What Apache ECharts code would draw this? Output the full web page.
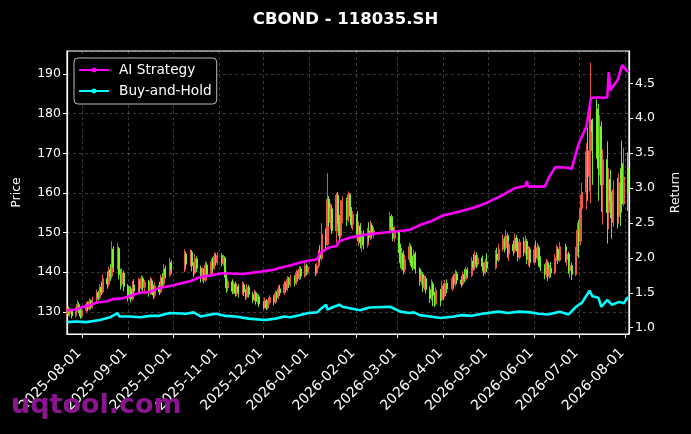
<!DOCTYPE html>
<html><head><meta charset="utf-8">
<script src="https://cdn.jsdelivr.net/npm/echarts@6/dist/echarts.min.js"></script>
<style>html,body{margin:0;padding:0;background:#000}#c{width:691px;height:434px}</style>
</head><body><div id="c"></div>
<script>
const chartTitle = 'CBOND - 118035.SH';
const tickDates = ['2025-08-01','2025-09-01','2025-10-01','2025-11-01','2025-12-01','2026-01-01','2026-02-01','2026-03-01','2026-04-01','2026-05-01','2026-06-01','2026-07-01','2026-08-01'];
const firstDay = '2025-07-22';
const lastDay = '2026-08-03';
const holidays = ['2025-10-01','2025-10-02','2025-10-03','2025-10-06','2025-10-07','2025-10-08','2026-01-01','2026-01-02','2026-02-16','2026-02-17','2026-02-18','2026-02-19','2026-02-20','2026-02-23','2026-04-06','2026-05-01','2026-05-04','2026-05-05','2026-06-19'];
// [open, close, low, high] per trading day
const ohlc = [
[129.5,130.8,128.6,131.5],[130.8,129.6,129.0,131.4],[129.6,130.2,128.8,130.9],[130.2,129.0,128.3,130.6],
[129.0,130.6,128.5,131.2],[130.6,131.8,130.0,132.9],[131.8,130.2,129.6,132.4],[130.2,128.9,128.2,130.8],[128.9,130.4,128.4,131.0],
[130.4,131.9,129.8,132.5],[131.9,130.8,130.1,132.6],[130.8,132.6,130.3,133.4],[132.6,131.2,130.6,133.1],[131.2,133.0,130.8,133.8],
[133.0,134.8,132.4,135.6],[134.8,133.6,132.9,135.3],[133.6,136.2,133.1,137.0],[136.2,135.0,134.2,137.6],[135.0,138.4,134.6,139.5],
[138.4,137.0,135.8,140.2],[137.0,140.6,136.4,141.4],[140.6,139.0,137.8,142.0],[139.0,145.8,138.4,147.8],[145.8,141.2,140.0,146.6],
[141.2,146.0,140.6,147.4],[146.0,139.4,138.2,146.4],[139.4,137.0,135.6,140.8],[137.0,139.8,136.4,141.0],[139.8,136.4,135.2,140.4],
[136.4,134.0,132.6,137.0],[134.0,135.8,133.2,136.6],[135.8,133.2,132.4,136.4],[133.2,136.8,132.8,137.8],[136.8,135.2,134.0,138.2],
[135.2,137.6,134.6,138.6],[137.6,136.0,134.8,138.2],[136.0,138.4,135.4,139.2],[138.4,136.2,135.0,139.0],[136.2,137.4,134.6,138.0],
[137.4,135.0,133.8,138.0],[135.0,137.8,134.2,138.8],[137.8,135.6,134.4,138.4],[135.6,134.2,133.2,136.8],[134.2,136.6,133.6,137.4],
[136.6,135.0,134.2,137.6],[135.0,138.6,134.6,139.4],[138.6,137.0,136.0,139.8],[137.0,140.8,136.4,142.0],[140.8,139.2,138.4,141.6],
[139.2,142.4,138.8,143.6],[142.4,140.6,139.6,143.0],
[140.6,144.6,140.0,145.8],[144.6,142.0,141.2,145.2],
[142.0,145.0,141.4,145.8],[145.0,141.6,140.2,145.6],[141.6,139.8,138.8,142.6],[139.8,143.4,139.4,144.6],[143.4,141.0,140.0,144.0],
[141.0,138.6,137.4,141.6],[138.6,140.4,137.8,141.2],[140.4,138.0,137.2,141.0],[138.0,141.8,137.6,142.8],[141.8,139.4,138.6,142.4],
[139.4,142.6,139.0,143.4],[142.6,141.0,140.2,143.8],[141.0,144.0,140.6,145.0],[144.0,142.4,141.6,144.8],[142.4,144.2,141.8,145.0],
[144.2,142.2,141.4,144.8],[142.2,143.6,141.6,144.4],[143.6,139.4,138.6,144.0],[139.4,136.0,134.8,140.2],[136.0,137.6,135.2,138.4],
[137.6,135.2,134.4,138.2],[135.2,137.0,134.6,137.8],[137.0,134.6,133.8,137.6],[134.6,136.4,134.0,137.2],[136.4,134.8,133.6,137.0],
[134.8,136.8,134.2,137.6],[136.8,135.0,134.0,137.4],[135.0,133.8,133.0,135.8],[133.8,136.2,133.4,137.0],[136.2,134.4,133.6,136.8],
[134.4,133.0,132.2,135.0],[133.0,134.8,132.6,135.6],[134.8,132.6,131.8,135.2],[132.6,133.8,132.0,134.6],[133.8,132.0,131.2,134.4],
[132.0,131.2,130.6,132.8],[131.2,132.8,130.8,133.6],[132.8,131.0,130.4,133.2],[131.0,132.4,130.6,133.0],[132.4,133.6,131.8,134.2],
[133.6,132.4,131.6,134.2],[132.4,134.6,132.0,135.4],[134.6,133.6,132.8,135.2],[133.6,135.8,133.2,136.6],[135.8,134.8,134.0,136.8],
[134.8,137.0,134.2,137.8],[137.0,135.6,134.8,137.6],[135.6,138.2,135.2,139.0],[138.2,136.8,136.0,138.8],[136.8,138.6,136.2,139.4],
[138.6,137.2,136.4,139.2],[137.2,139.8,136.8,140.6],[139.8,138.4,137.6,140.4],[138.4,140.8,138.0,141.6],[140.8,139.0,138.2,141.4],
[139.0,141.6,138.6,142.6],[141.6,140.0,139.2,142.2],[140.0,141.2,139.4,141.8],
[141.2,139.8,139.0,142.0],[139.8,141.6,139.4,142.4],[141.6,144.8,141.0,145.6],[144.8,143.4,142.6,146.8],[143.4,149.6,143.0,152.4],
[149.6,147.0,145.6,151.0],[147.0,158.4,146.6,165.0],[158.4,152.6,151.4,159.2],[152.6,156.0,150.8,157.4],[156.0,150.4,149.6,157.0],
[150.4,159.4,147.4,160.0],[159.4,153.0,152.2,160.2],[153.0,149.2,148.0,154.4],[149.2,156.4,148.6,158.2],[156.4,158.0,152.4,159.2],
[158.0,153.2,151.6,158.8],[153.2,159.6,152.6,160.4],[159.6,155.0,154.0,160.0],[155.0,152.0,151.2,156.4],[152.0,154.6,150.6,155.4],
[154.6,149.0,147.8,155.4],[149.0,151.6,146.6,152.8],[151.6,147.4,146.0,152.4],[147.4,149.6,145.2,150.4],[149.6,146.8,145.8,150.6],
[146.8,150.4,146.2,151.2],[150.4,148.8,147.8,152.6],[148.8,151.8,148.2,153.0],[151.8,149.4,148.4,152.4],[149.4,150.6,148.6,151.4],
[150.6,154.0,149.6,155.2],[154.0,151.2,150.2,154.6],[151.2,148.6,147.8,152.2],[148.6,150.2,147.6,151.6],
[150.2,146.0,144.8,150.6],[146.0,142.4,141.0,147.2],[142.4,144.8,140.4,145.6],[144.8,140.6,139.4,145.4],[140.6,143.2,140.0,144.4],
[143.2,146.4,142.4,147.4],[146.4,142.8,141.6,147.0],[142.8,141.2,140.4,144.2],[141.2,144.6,140.8,145.6],[144.6,140.8,139.6,145.2],
[140.8,137.6,136.6,141.2],[137.6,139.4,136.8,140.4],[139.4,136.2,135.0,140.0],[136.2,138.4,135.4,139.2],[138.4,135.6,134.6,139.0],
[135.6,133.4,132.2,136.4],[133.4,137.0,132.8,138.2],[137.0,134.2,131.4,137.6],[134.2,132.0,131.2,135.0],[132.0,135.4,131.6,136.2],
[135.4,133.0,131.4,135.8],[133.0,136.6,132.6,137.8],[136.6,134.0,133.0,137.2],[134.0,137.2,133.6,138.0],[137.2,135.8,134.6,138.2],
[135.8,138.4,135.2,139.0],[138.4,137.0,136.2,139.4],[137.0,139.6,136.4,140.6],[139.6,138.0,137.2,140.2],
[138.0,137.0,136.2,139.0],[137.0,139.4,136.6,140.2],[139.4,138.2,137.4,140.8],[138.2,140.6,137.8,141.4],[140.6,139.2,138.4,141.2],
[139.2,142.8,138.8,143.8],[142.8,141.2,140.4,144.6],[141.2,144.2,140.6,145.4],[144.2,142.0,141.0,145.0],[142.0,143.6,141.4,144.4],
[143.6,141.4,140.2,144.2],[141.4,139.8,139.0,142.4],[139.8,142.6,139.4,143.4],[142.6,141.0,140.0,144.8],
[141.0,144.6,140.6,145.6],[144.6,143.0,142.2,146.2],[143.0,145.8,142.6,147.2],
[145.8,148.4,145.2,149.6],[148.4,146.2,145.0,149.0],[146.2,149.2,145.6,150.6],[149.2,144.6,143.6,149.8],[144.6,147.0,142.8,147.8],
[147.0,145.4,144.2,148.0],[145.4,148.6,144.8,149.8],[148.6,146.0,145.2,149.4],[146.0,143.8,142.8,147.2],[143.8,147.6,143.2,148.4],
[147.6,145.0,144.0,148.8],[145.0,147.8,144.2,149.2],[147.8,143.2,142.0,148.4],[143.2,145.8,141.6,146.6],[145.8,142.4,141.2,146.4],
[142.4,145.6,141.8,146.8],[145.6,143.6,142.4,148.0],[143.6,146.2,143.0,147.4],[146.2,142.6,141.4,146.8],[142.6,141.2,140.2,144.0],
[141.2,139.4,138.2,142.0],[139.4,142.4,138.6,143.4],[142.4,139.0,137.8,143.0],[139.0,141.0,138.4,141.8],[141.0,139.8,138.6,142.6],
[139.8,143.6,139.4,144.6],[143.6,145.8,142.8,147.0],[145.8,143.0,142.0,146.4],[143.0,146.4,142.6,147.6],
[146.4,143.2,142.4,147.2],[143.2,144.6,141.6,145.6],[144.6,140.4,139.6,145.2],[140.4,141.6,138.6,142.6],[141.6,139.4,138.0,142.4],
[139.4,145.2,139.0,146.4],[145.2,150.6,144.0,152.4],[150.6,147.8,143.6,153.2],[147.8,156.0,146.8,159.6],[156.0,160.2,154.4,162.6],
[160.2,170.4,155.8,172.6],[170.4,164.2,158.0,176.4],[164.2,170.6,160.4,181.6],[170.6,178.4,157.4,192.8],[178.4,175.4,162.0,178.8],
[181.2,172.4,168.6,183.6],[172.4,166.2,158.0,182.4],[166.2,176.8,164.4,179.6],[176.8,162.0,155.2,178.0],[162.0,168.4,152.0,171.0],
[168.4,155.0,147.2,173.0],[155.0,163.4,150.8,166.2],[163.4,158.0,153.6,165.8],[158.0,152.6,148.4,160.4],[152.6,160.8,151.4,163.2],
[160.8,154.0,151.0,163.8],[154.0,162.6,152.2,165.0],[162.6,157.2,151.6,166.2],[167.4,157.2,155.0,173.2],[157.2,164.0,156.6,171.4],
[166.4,160.0,155.4,170.2]
];
const aiStrategy = [['2025-07-22',1.25],['2025-07-29',1.26],['2025-07-31',1.29],['2025-08-06',1.32],['2025-08-11',1.36],['2025-08-18',1.38],['2025-08-22',1.41],['2025-08-28',1.42],['2025-09-03',1.46],['2025-09-09',1.50],['2025-09-15',1.51],['2025-09-22',1.57],['2025-09-30',1.60],['2025-10-13',1.67],['2025-10-20',1.73],['2025-10-27',1.75],['2025-11-03',1.78],['2025-11-17',1.77],['2025-11-28',1.80],['2025-12-08',1.83],['2025-12-12',1.86],['2025-12-19',1.89],['2025-12-25',1.93],['2025-12-31',1.96],['2026-01-06',1.98],['2026-01-08',2.07],['2026-01-14',2.15],['2026-01-19',2.17],['2026-01-21',2.24],['2026-01-28',2.29],['2026-02-04',2.32],['2026-02-10',2.34],['2026-02-24',2.37],['2026-03-09',2.40],['2026-03-16',2.47],['2026-03-23',2.52],['2026-04-01',2.61],['2026-04-07',2.64],['2026-04-20',2.71],['2026-04-29',2.78],['2026-05-08',2.87],['2026-05-19',3.00],['2026-05-26',3.03],['2026-05-27',3.10],['2026-05-28',3.02],['2026-06-08',3.02],['2026-06-11',3.16],['2026-06-15',3.30],['2026-06-24',3.29],['2026-06-26',3.27],['2026-06-29',3.50],['2026-07-01',3.65],['2026-07-06',3.88],['2026-07-09',4.29],['2026-07-14',4.30],['2026-07-17',4.29],['2026-07-20',4.30],['2026-07-21',4.66],['2026-07-22',4.40],['2026-07-23',4.40],['2026-07-27',4.55],['2026-07-30',4.76],['2026-08-03',4.66]];
const buyHold = [['2025-07-22',1.08],['2025-07-28',1.09],['2025-08-04',1.08],['2025-08-13',1.11],['2025-08-20',1.15],['2025-08-25',1.21],['2025-08-26',1.16],['2025-09-02',1.16],['2025-09-09',1.15],['2025-09-16',1.17],['2025-09-22',1.17],['2025-09-29',1.21],['2025-10-10',1.20],['2025-10-15',1.22],['2025-10-20',1.16],['2025-10-24',1.18],['2025-10-30',1.20],['2025-11-05',1.17],['2025-11-12',1.16],['2025-11-21',1.13],['2025-12-02',1.11],['2025-12-09',1.13],['2025-12-15',1.16],['2025-12-19',1.15],['2025-12-25',1.18],['2025-12-31',1.21],['2026-01-06',1.22],['2026-01-09',1.28],['2026-01-12',1.33],['2026-01-13',1.26],['2026-01-16',1.29],['2026-01-21',1.33],['2026-01-23',1.30],['2026-01-28',1.28],['2026-02-04',1.25],['2026-02-10',1.29],['2026-02-24',1.30],['2026-03-03',1.23],['2026-03-09',1.21],['2026-03-12',1.22],['2026-03-16',1.18],['2026-03-23',1.16],['2026-03-30',1.14],['2026-04-08',1.16],['2026-04-13',1.18],['2026-04-20',1.17],['2026-04-27',1.20],['2026-05-08',1.23],['2026-05-14',1.21],['2026-05-22',1.23],['2026-05-29',1.22],['2026-06-04',1.20],['2026-06-10',1.19],['2026-06-18',1.23],['2026-06-24',1.19],['2026-06-29',1.30],['2026-07-03',1.36],['2026-07-08',1.53],['2026-07-10',1.45],['2026-07-14',1.43],['2026-07-16',1.30],['2026-07-20',1.40],['2026-07-23',1.33],['2026-07-28',1.37],['2026-07-31',1.35],['2026-08-03',1.44]];

function ts(s) { const t = s.split('-').map(Number); return Date.UTC(t[0], t[1] - 1, t[2]); }
function fmt(v) { const d = new Date(v); const p = x => (x < 10 ? '0' : '') + x; return d.getUTCFullYear() + '-' + p(d.getUTCMonth() + 1) + '-' + p(d.getUTCDate()); }
function tradingDays(a, b, skip) {
  const out = [];
  for (let t = ts(a); t <= ts(b); t += 86400000) {
    const wd = new Date(t).getUTCDay();
    if (wd === 0 || wd === 6 || skip.indexOf(fmt(t)) >= 0) continue;
    out.push(t);
  }
  return out;
}
const days = tradingDays(firstDay, lastDay, holidays);
const n = Math.min(days.length, ohlc.length);
const candleData = [];
for (let i = 0; i < n; i++) candleData.push([days[i]].concat(ohlc[i]));
const tickVals = tickDates.map(ts);

const chart = echarts.init(document.getElementById('c'));
const font = 'DejaVu Sans';
const gridLine = { show: true, lineStyle: { color: 'rgba(255,255,255,0.28)', type: [3, 3], width: 0.8 } };
chart.setOption({
  backgroundColor: '#000',
  animation: false,
  textStyle: { fontFamily: font },
  title: { text: chartTitle, left: 'center', top: 6, textStyle: { color: '#fff', fontSize: 16.5, fontWeight: 'bold', fontFamily: font } },
  legend: {
    orient: 'vertical', left: 74, top: 58,
    data: ['AI Strategy', 'Buy-and-Hold'],
    backgroundColor: '#000', borderColor: 'rgba(220,220,220,0.85)', borderWidth: 1, borderRadius: 4,
    padding: [3.5, 5, 4.5, 4], itemGap: 4, itemWidth: 30, itemHeight: 6,
    textStyle: { color: '#fff', fontSize: 13.7, lineHeight: 17, padding: [0, 0, 0, 5], fontFamily: font }
  },
  grid: { left: 67, right: 62, top: 51, bottom: 100, show: true, borderColor: '#fff', borderWidth: 1.2, backgroundColor: 'transparent' },
  xAxis: {
    type: 'value',
    min: ts('2025-07-21') + 22 * 3600000,
    max: ts('2026-08-03') + 14 * 3600000,
    axisLine: { show: true, lineStyle: { color: '#fff', width: 1.2 } },
    axisTick: { show: true, length: 4, lineStyle: { color: '#fff' }, customValues: tickVals },
    axisLabel: { color: '#fff', fontSize: 14, rotate: 45, margin: 14, padding: [0, 4, 0, 0], fontFamily: font, customValues: tickVals, formatter: v => fmt(v) },
    splitLine: gridLine
  },
  yAxis: [
    { type: 'value', position: 'left', min: 124.4, max: 195.8, splitNumber: 7,
      name: 'Price', nameLocation: 'middle', nameGap: 44, nameRotate: 90,
      nameTextStyle: { color: '#fff', fontSize: 12.5, fontFamily: font },
      axisLine: { show: true, lineStyle: { color: '#fff', width: 1.2 } },
      axisTick: { show: true, length: 4, lineStyle: { color: '#fff' } },
      axisLabel: { color: '#fff', fontSize: 12.5, showMinLabel: false, showMaxLabel: false, margin: 6 },
      splitLine: gridLine },
    { type: 'value', position: 'right', min: 0.91, max: 4.963, splitNumber: 8,
      name: 'Return', nameLocation: 'middle', nameGap: 40, nameRotate: 90,
      nameTextStyle: { color: '#fff', fontSize: 12.5, fontFamily: font },
      axisLine: { show: true, lineStyle: { color: '#fff', width: 1.2 } },
      axisTick: { show: true, length: 4, lineStyle: { color: '#fff' } },
      axisLabel: { color: '#fff', fontSize: 12.5, showMinLabel: false, showMaxLabel: false, margin: 6, formatter: v => v.toFixed(1) },
      splitLine: { show: false } }
  ],
  series: [
    { type: 'candlestick', name: 'Price', data: candleData, barWidth: 1.6,
      itemStyle: { color: '#ff5c4d', color0: '#7cfc30', borderColor: '#ff5c4d', borderColor0: '#7cfc30', borderWidth: 1, opacity: 0.9 } },
    { type: 'line', name: 'AI Strategy', yAxisIndex: 1, data: aiStrategy.map(p => [ts(p[0]), p[1]]), showSymbol: false, symbol: 'circle', symbolSize: 4,
      lineStyle: { color: '#ff00ff', width: 2.6 }, itemStyle: { color: '#ff00ff' }, z: 5 },
    { type: 'line', name: 'Buy-and-Hold', yAxisIndex: 1, data: buyHold.map(p => [ts(p[0]), p[1]]), showSymbol: false, symbol: 'circle', symbolSize: 4,
      lineStyle: { color: '#00ffff', width: 2.6 }, itemStyle: { color: '#00ffff' }, z: 5 }
  ],
  graphic: [
    { type: 'text', left: 11, top: 392, z: 100, style: { text: 'uqtool.com', fill: '#8b158f', font: 'bold 27px "DejaVu Sans"' } }
  ]
});
</script></body></html>
